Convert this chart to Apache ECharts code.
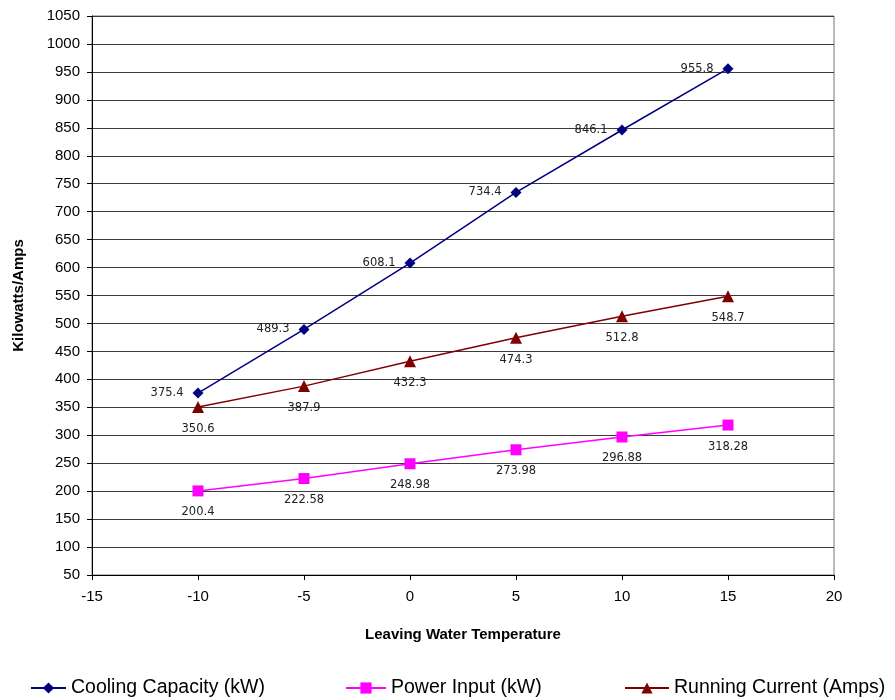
<!DOCTYPE html>
<html><head><meta charset="utf-8">
<script src="https://cdn.jsdelivr.net/npm/echarts@6/dist/echarts.min.js"></script>
<style>html,body{margin:0;padding:0;background:#fff}#c{width:895px;height:700px}</style>
</head><body><div id="c"></div>
<script>
const temps = [-10, -5, 0, 5, 10, 15];
const coolingCapacity = [375.4, 489.3, 608.1, 734.4, 846.1, 955.8];
const powerInput = [200.4, 222.58, 248.98, 273.98, 296.88, 318.28];
const runningCurrent = [350.6, 387.9, 432.3, 474.3, 512.8, 548.7];
const seriesNames = ['Cooling Capacity (kW)', 'Power Input (kW)', 'Running Current (Amps)'];

const pair = (vals) => temps.map((t, i) => [t, vals[i]]);
const lblFont = { fontFamily: 'DejaVu Sans', fontSize: 11.5, color: '#222' };
const legendText = { fontFamily: 'Liberation Sans', fontSize: 19.5, color: '#000' };
const mkLegend = (name, left, w) => ({
  data: [name], left: left, top: 678, padding: 0, itemWidth: w, itemHeight: 14, itemGap: 4,
  textStyle: legendText
});

const chart = echarts.init(document.getElementById('c'), null, { renderer: 'canvas' });
chart.setOption({
  animation: false,
  backgroundColor: '#fff',
  grid: { left: 92, right: 61, top: 16, bottom: 125, show: true, borderColor: '#777', borderWidth: 1 },
  xAxis: {
    type: 'value', min: -15, max: 20, interval: 5,
    name: 'Leaving Water Temperature', nameLocation: 'middle', nameGap: 52,
    nameTextStyle: { fontFamily: 'Liberation Sans', fontWeight: 'bold', fontSize: 15, color: '#000' },
    axisLine: { onZero: false, lineStyle: { color: '#000', width: 1 } },
    axisTick: { show: true, length: 5, lineStyle: { color: '#000' } },
    axisLabel: { fontFamily: 'Liberation Sans', fontSize: 15, color: '#000', margin: 14 },
    splitLine: { show: false }
  },
  yAxis: {
    type: 'value', min: 50, max: 1050, interval: 50,
    name: 'Kilowatts/Amps', nameLocation: 'middle', nameGap: 66, nameRotate: 90,
    nameTextStyle: { fontFamily: 'Liberation Sans', fontWeight: 'bold', fontSize: 15, color: '#000' },
    axisLine: { show: true, onZero: false, lineStyle: { color: '#000', width: 1 } },
    axisTick: { show: true, length: 5, lineStyle: { color: '#000' } },
    axisLabel: { fontFamily: 'Liberation Sans', fontSize: 15, color: '#000', margin: 12, formatter: (v) => String(v) },
    splitLine: { show: true, lineStyle: { color: '#3a3a3a', width: 1 } }
  },
  legend: [
    mkLegend(seriesNames[0], 30, 35),
    mkLegend(seriesNames[1], 345, 40),
    mkLegend(seriesNames[2], 624, 44)
  ],
  series: [
    {
      name: seriesNames[0], type: 'line', data: pair(coolingCapacity),
      color: '#000080', symbol: 'diamond', symbolSize: 11,
      lineStyle: { width: 1.5 },
      label: { show: true, position: 'left', distance: 9, ...lblFont }
    },
    {
      name: seriesNames[1], type: 'line', data: pair(powerInput),
      color: '#FF00FF', symbol: 'rect', symbolSize: 11,
      lineStyle: { width: 1.5 },
      label: { show: true, position: 'bottom', distance: 10, ...lblFont }
    },
    {
      name: seriesNames[2], type: 'line', data: pair(runningCurrent),
      color: '#800000', symbol: 'triangle', symbolSize: 12,
      lineStyle: { width: 1.5 },
      label: { show: true, position: 'bottom', distance: 10, ...lblFont }
    }
  ]
});
</script></body></html>
